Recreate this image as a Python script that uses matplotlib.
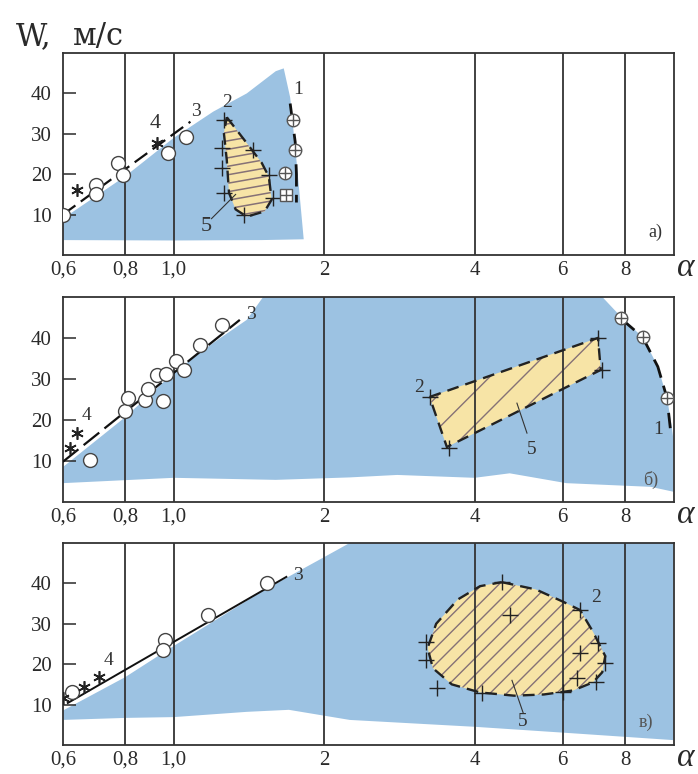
import numpy as np
import matplotlib
matplotlib.use('Agg')
import matplotlib.pyplot as plt
from matplotlib.patches import Polygon

plt.rcParams['font.family'] = ['Liberation Serif', 'DejaVu Serif']
plt.rcParams['hatch.linewidth'] = 1.0

# ---- data (alpha, W) ----
xticks = [0.6, 0.8, 1.0, 2, 4, 6, 8]
xticklabels = ['0,6', '0,8', '1,0', '2', '4', '6', '8']
yticks = [10, 20, 30, 40]

# panel a)
a_blue_x = [0.6, 0.8, 1.0, 1.2, 1.4, 1.6, 1.66, 1.71, 1.76, 1.82, 1.5, 1.0, 0.6]
a_blue_y = [9.0, 19.5, 29.0, 35.5, 40.0, 45.5, 46.2, 39.0, 23.5, 3.9, 3.7, 3.6, 3.7]
a_zone_x = [1.277, 1.40, 1.50, 1.55, 1.57, 1.52, 1.40, 1.33, 1.29, 1.277, 1.26]
a_zone_y = [34.1, 27.7, 22.8, 19.4, 13.7, 10.8, 9.5, 11.3, 15.4, 23.5, 30.2]
a_line3_x = [0.6, 1.08]
a_line3_y = [10.0, 33.0]
a_line1_x = [1.71, 1.75, 1.76, 1.76]
a_line1_y = [37.5, 28.0, 20.0, 13.0]
a_circ_x = [0.6, 0.70, 0.70, 0.773, 0.79, 0.973, 1.06]
a_circ_y = [10.0, 17.4, 15.0, 22.8, 19.9, 25.3, 29.2]
a_star_x = [0.64, 0.925]
a_star_y = [16.2, 27.7]
a_cross_x = [1.26, 1.25, 1.44, 1.25, 1.55, 1.26, 1.58, 1.38]
a_cross_y = [33.4, 26.5, 26.0, 21.6, 19.9, 15.4, 14.2, 10.0]
a_ocross_x = [1.73, 1.75, 1.67]
a_ocross_y = [33.4, 26.0, 20.3]
a_sq_x = [1.68]
a_sq_y = [14.9]

# panel б)
b_blue_x = [0.6, 0.8, 1.0, 1.2, 1.4, 1.51, 7.2, 7.8, 8.7, 9.3, 9.7, 9.9, 10.0, 10.0,
            9.0, 6.1, 4.7, 4.0, 2.8, 2.25, 1.6, 1.0, 0.6]
b_blue_y = [8.5, 20.7, 31.5, 38.8, 44.4, 50.0, 50.0, 45.5, 40.0, 33.0, 25.5, 19.0, 15.0, 2.5,
            3.7, 4.6, 7.0, 5.9, 6.6, 6.0, 5.4, 5.9, 4.6]
b_zone_x = [3.25, 7.06, 7.15, 3.52]
b_zone_y = [25.6, 40.0, 32.2, 13.4]
b_line3_x = [0.6, 1.356]
b_line3_y = [9.8, 44.4]
b_line1_x = [7.8, 8.67, 9.3, 9.7, 9.85]
b_line1_y = [45.0, 40.2, 33.0, 25.4, 18.0]
b_circ_x = [0.68, 0.80, 0.81, 0.875, 0.89, 0.925, 0.95, 0.967, 1.01, 1.05, 1.13, 1.25]
b_circ_y = [10.2, 22.2, 25.4, 24.9, 27.6, 31.0, 24.6, 31.2, 34.4, 32.2, 38.3, 43.2]
b_star_x = [0.62, 0.64]
b_star_y = [13.2, 16.8]
b_cross_x = [3.25, 7.06, 7.18, 3.55]
b_cross_y = [25.6, 40.0, 32.2, 13.2]
b_ocross_x = [7.85, 8.67, 9.7]
b_ocross_y = [44.9, 40.2, 25.4]

# panel в)
c_blue_x = [0.6, 0.8, 1.0, 1.5, 2.0, 2.25, 10.0, 10.0, 6.1, 4.0, 2.25, 1.7, 1.4, 1.0, 0.8, 0.6]
c_blue_y = [8.5, 16.8, 24.5, 38.0, 46.5, 50.0, 50.0, 1.2, 3.0, 4.5, 6.2, 8.7, 8.2, 6.9, 6.7, 6.2]
c_zone_x = [4.53, 5.3, 6.0, 6.5, 6.9, 7.3, 7.2, 6.9, 6.3, 5.5, 4.8, 4.1, 3.6, 3.3, 3.22, 3.35, 3.7, 4.1]
c_zone_y = [40.3, 38.5, 35.5, 33.4, 28.0, 22.0, 18.0, 15.5, 13.5, 12.5, 12.2, 13.0, 15.0, 19.0, 24.0, 30.0, 36.0, 39.3]
c_line3_x = [0.614, 1.68]
c_line3_y = [10.4, 41.6]
c_circ_x = [0.625, 0.96, 0.95, 1.17, 1.54]
c_circ_y = [13.1, 26.0, 23.5, 32.2, 40.1]
c_star_x = [0.6, 0.66, 0.708]
c_star_y = [11.6, 14.4, 16.8]
c_cross_x = [4.53, 4.7, 6.5, 3.2, 3.2, 3.37, 4.13, 6.0, 6.49, 7.06, 7.29, 6.4, 7.0]
c_cross_y = [40.3, 32.2, 33.4, 25.5, 21.0, 14.1, 12.9, 13.1, 22.8, 25.2, 20.3, 16.6, 15.6]

BLUE = '#9cc2e2'
YELLOW = '#f7e4a6'
HATCH = '#857176'
INK = '#2a2a2a'

fig = plt.figure(figsize=(6.98, 7.74), dpi=100)
boxes = [[0.090, 0.6705, 0.875, 0.261],
         [0.090, 0.3514, 0.875, 0.265],
         [0.090, 0.0375, 0.875, 0.261]]
axes = [fig.add_axes(b) for b in boxes]


def base(ax):
    ax.set_xscale('log')
    ax.set_xlim(0.6, 10)
    ax.set_ylim(0, 50)
    ax.minorticks_off()
    ax.set_xticks(xticks)
    ax.set_xticklabels(xticklabels, fontsize=15, color=INK)
    ax.set_yticks(yticks)
    ax.set_yticklabels([str(v) for v in yticks], fontsize=15, color=INK)
    ax.tick_params(axis='x', length=0, pad=4)
    ax.tick_params(axis='y', direction='in', length=9, width=1.1, pad=8, color=INK)
    ax.xaxis.set_minor_formatter(plt.NullFormatter())
    for s in ax.spines.values():
        s.set_linewidth(1.3)
        s.set_color('#333333')
    for xv in xticks[1:]:
        ax.axvline(xv, color='#333333', lw=1.3, zorder=3)


def zone(ax, xs, ys, hatch):
    ax.fill(xs, ys, color=YELLOW, lw=0, zorder=2)
    if hatch:
        ax.fill(xs, ys, facecolor='none', edgecolor=HATCH, lw=0, hatch=hatch, zorder=2.5)
    ax.fill(xs, ys, facecolor='none', edgecolor='#222222', lw=1.7, ls=(0, (5, 3)), zorder=4)


def circles(ax, xs, ys):
    ax.plot(xs, ys, 'o', ms=10, mfc='white', mec='#444444', mew=1.0, ls='none', zorder=6)


def stars(ax, xs, ys):
    ax.plot(xs, ys, marker=(6, 2, 0), ms=9, mec='#222222', mew=1.2, ls='none', zorder=6)


def crosses(ax, xs, ys):
    ax.plot(xs, ys, '+', ms=11, mec='#222222', mew=1.0, ls='none', zorder=6)


def ocross(ax, xs, ys, m='o'):
    ax.plot(xs, ys, m, ms=9, mfc='white', mec='#555555', mew=1.0, ls='none', zorder=6)
    ax.plot(xs, ys, '+', ms=8, mec='#555555', mew=1.0, ls='none', zorder=7)


def lab(ax, x, y, s, size=14):
    ax.text(x, y, s, fontsize=size, color='#333333', ha='center', va='center', zorder=8)


# ---- panel a) ----
ax = axes[0]
base(ax)
ax.fill(a_blue_x, a_blue_y, color=BLUE, lw=0, zorder=1)
zone(ax, a_zone_x, a_zone_y, None)
# slightly tilted hatch lines clipped to zone 5
clip = Polygon(np.column_stack([a_zone_x, a_zone_y]), closed=True, transform=ax.transData,
               facecolor='none', edgecolor='none')
ax.add_patch(clip)
hx = np.array([1.2, 1.7])
for c0 in np.arange(6, 38, 2.1):
    ln, = ax.plot(hx, c0 + 22 * np.log10(hx / 1.4), color=HATCH, lw=1.1, zorder=2.5)
    ln.set_clip_path(clip)
ax.plot(a_line3_x, a_line3_y, color='#111111', lw=1.6, ls=(0, (7, 3)), zorder=5)
ax.plot(a_line1_x, a_line1_y, color='#111111', lw=2.0, ls=(0, (8, 3)), zorder=5)
circles(ax, a_circ_x, a_circ_y)
stars(ax, a_star_x, a_star_y)
crosses(ax, a_cross_x, a_cross_y)
ocross(ax, a_ocross_x, a_ocross_y)
ocross(ax, a_sq_x, a_sq_y, 's')
lab(ax, 1.11, 35.5, '3')
lab(ax, 0.917, 32.5, '4', 16)
lab(ax, 1.28, 37.8, '2')
lab(ax, 1.77, 41.0, '1')
lab(ax, 1.16, 7.0, '5', 16)
ax.plot([1.19, 1.33], [9.0, 15.0], color='#333333', lw=0.8, zorder=6)
ax.text(9.2, 5.6, 'а)', fontsize=13, color='#333333', ha='center', va='center')

# ---- panel б) ----
ax = axes[1]
base(ax)
ax.fill(b_blue_x, b_blue_y, color=BLUE, lw=0, zorder=1)
zone(ax, b_zone_x, b_zone_y, '/')
ax.plot(b_line3_x, b_line3_y, color='#111111', lw=1.6, ls=(0, (9, 3)), zorder=5)
ax.plot(b_line1_x, b_line1_y, color='#111111', lw=2.0, ls=(0, (7, 3)), zorder=5)
circles(ax, b_circ_x, b_circ_y)
stars(ax, b_star_x, b_star_y)
crosses(ax, b_cross_x, b_cross_y)
ocross(ax, b_ocross_x, b_ocross_y)
lab(ax, 1.43, 45.6, '3')
lab(ax, 0.67, 21.0, '4')
lab(ax, 3.1, 28.0, '2')
lab(ax, 5.2, 12.8, '5')
lab(ax, 9.3, 17.6, '1')
ax.plot([4.86, 5.09], [24.1, 16.8], color='#333333', lw=0.8, zorder=6)
ax.text(9.0, 5.4, 'б)', fontsize=13, color='#555555', ha='center', va='center')

# ---- panel в) ----
ax = axes[2]
base(ax)
ax.fill(c_blue_x, c_blue_y, color=BLUE, lw=0, zorder=1)
zone(ax, c_zone_x, c_zone_y, '//')
ax.plot(c_line3_x, c_line3_y, color='#111111', lw=1.4, zorder=5)
circles(ax, c_circ_x, c_circ_y)
stars(ax, c_star_x, c_star_y)
crosses(ax, c_cross_x, c_cross_y)
lab(ax, 1.77, 42.0, '3')
lab(ax, 0.74, 20.8, '4')
lab(ax, 7.0, 36.6, '2')
lab(ax, 5.0, 5.8, '5')
ax.plot([4.75, 5.0], [16.0, 8.0], color='#333333', lw=0.8, zorder=6)
ax.text(8.8, 5.7, 'в)', fontsize=13, color='#555555', ha='center', va='center')

# axis titles
fig.text(16 / 698, 1 - 45 / 774, 'W,', fontsize=22, family='DejaVu Serif', color=INK,
         ha='left', va='baseline')
fig.text(73 / 698, 1 - 45 / 774, 'м/с', fontsize=22, family='DejaVu Serif', color=INK,
         ha='left', va='baseline')
for yb in [268, 515, 758]:
    fig.text(686 / 698, 1 - yb / 774, 'α', fontsize=24, style='italic', color=INK,
             ha='center', va='center')

fig.savefig('out.png', dpi=100)
